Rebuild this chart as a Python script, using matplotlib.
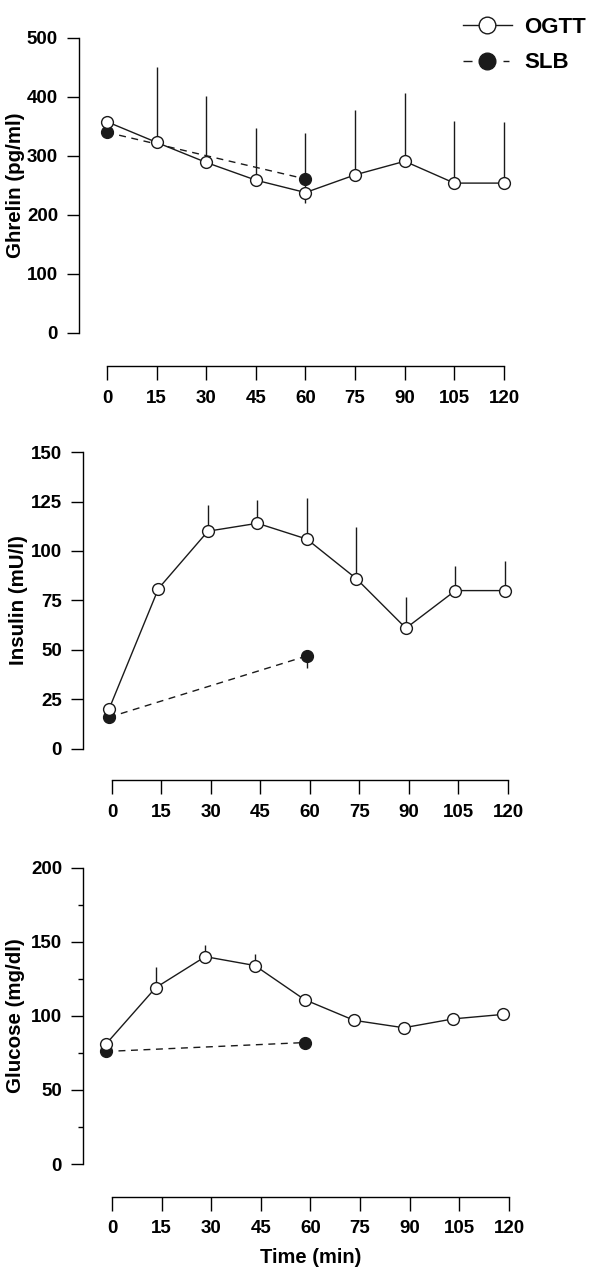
import numpy as np
import matplotlib
matplotlib.use('Agg')
import matplotlib.pyplot as plt
from matplotlib.transforms import ScaledTranslation
from matplotlib.lines import Line2D

plt.rcParams['font.family'] = ['Liberation Sans', 'DejaVu Sans']
plt.rcParams['font.weight'] = 'bold'
plt.rcParams['axes.labelweight'] = 'bold'

# time points (min)
time = [0, 15, 30, 45, 60, 75, 90, 105, 120]
slb_time = [0, 60]

# ghrelin (pg/ml)
ghrelin_ogtt = [358, 323, 289, 259, 238, 268, 291, 254, 254]
ghrelin_ogtt_up = [0, 127, 112, 89, 101, 110, 115, 105, 104]
ghrelin_ogtt_lo = [0, 0, 0, 0, 18, 0, 0, 0, 0]
ghrelin_slb = [340, 261]
ghrelin_slb_lo = [0, 0]

# insulin (mU/l)
insulin_ogtt = [20, 81, 110, 114, 106, 86, 61, 80, 80]
insulin_ogtt_up = [0, 0, 13, 12, 21, 26, 16, 12.5, 15]
insulin_ogtt_lo = [0, 0, 0, 0, 0, 0, 0, 0, 0]
insulin_slb = [16, 47]
insulin_slb_lo = [0, 6]

# glucose (mg/dl)
glucose_ogtt = [81, 119, 140, 134, 111, 97, 92, 98, 101]
glucose_ogtt_up = [0, 14, 8, 8, 0, 0, 0, 0, 0]
glucose_ogtt_lo = [0, 0, 0, 0, 0, 0, 0, 0, 0]
glucose_slb = [76, 82]
glucose_slb_lo = [0, 0]

fig = plt.figure(figsize=(6.02, 12.69), dpi=100)

panels = [
    dict(rect=[0.1777, 0.7376, 0.6595, 0.2325], ymax=500, yticks=np.arange(0, 501, 100),
         minor=[], label='Ghrelin (pg/ml)', off=(20.2, 23.8), shift=0.0, lx=-0.207,
         ogtt=ghrelin_ogtt, up=ghrelin_ogtt_up, lo=ghrelin_ogtt_lo,
         slb=ghrelin_slb, slb_lo=ghrelin_slb_lo),
    dict(rect=[0.1860, 0.4098, 0.6578, 0.2340], ymax=150, yticks=np.arange(0, 151, 25),
         minor=[], label='Insulin (mU/l)', off=(20.9, 22.3), shift=-2.2, lx=-0.212,
         ogtt=insulin_ogtt, up=insulin_ogtt_up, lo=insulin_ogtt_lo,
         slb=insulin_slb, slb_lo=insulin_slb_lo),
    dict(rect=[0.1860, 0.0827, 0.6595, 0.2335], ymax=200, yticks=np.arange(0, 201, 50),
         minor=[25, 75, 125, 175], label='Glucose (mg/dl)', off=(20.9, 23.5), shift=-4.3, lx=-0.219,
         ogtt=glucose_ogtt, up=glucose_ogtt_up, lo=glucose_ogtt_lo,
         slb=glucose_slb, slb_lo=glucose_slb_lo),
]

for p in panels:
    ax = fig.add_axes(p['rect'])
    ax.set_xlim(0, 120)
    ax.set_ylim(0, p['ymax'])
    for s in ['top', 'right']:
        ax.spines[s].set_visible(False)
    ax.spines['left'].set_position(('outward', p['off'][0]))
    ax.spines['bottom'].set_position(('outward', p['off'][1]))
    for s in ['left', 'bottom']:
        ax.spines[s].set_linewidth(1.0)
    ax.set_xticks(time)
    ax.set_yticks(p['yticks'])
    ax.set_yticks(p['minor'], minor=True)
    ax.tick_params(axis='y', which='major', length=9, width=1.0, pad=6, labelsize=13.5)
    ax.tick_params(axis='y', which='minor', length=3.5, width=1.0)
    ax.tick_params(axis='x', which='major', length=10, width=1.0, pad=7, labelsize=13.5)
    ax.set_ylabel(p['label'], fontsize=14.8, fontweight='bold')
    ax.yaxis.set_label_coords(p['lx'], 0.5)

    tr = ax.transData + ScaledTranslation(p['shift'] / 72, 0, fig.dpi_scale_trans)

    ogtt = np.array(p['ogtt'], dtype=float)
    up = np.array(p['up'], dtype=float)
    lo = np.array(p['lo'], dtype=float)
    slb = np.array(p['slb'], dtype=float)
    slb_lo = np.array(p['slb_lo'], dtype=float)

    ax.vlines(time, ogtt - lo, ogtt + up, colors='#1a1a1a', linewidth=1.0,
              transform=tr, clip_on=False, zorder=1)
    ax.vlines(slb_time, slb - slb_lo, slb, colors='#1a1a1a', linewidth=1.0,
              transform=tr, clip_on=False, zorder=1)
    ax.plot(slb_time, slb, color='#1a1a1a', linestyle=(0, (5, 4)), linewidth=1.0,
            marker='o', markersize=8.5, markerfacecolor='#1a1a1a', markeredgecolor='#1a1a1a',
            transform=tr, clip_on=False, zorder=2)
    ax.plot(time, ogtt, color='#1a1a1a', linewidth=1.0,
            marker='o', markersize=8.5, markerfacecolor='white', markeredgecolor='#1a1a1a',
            markeredgewidth=1.0, transform=tr, clip_on=False, zorder=3)

    last_ax = ax

last_ax.set_xlabel('Time (min)', fontsize=14.5, fontweight='bold', labelpad=8)

handles = [
    Line2D([], [], color='#1a1a1a', linewidth=1.0, marker='o', markersize=12,
           markerfacecolor='white', markeredgecolor='#1a1a1a'),
    Line2D([], [], color='#1a1a1a', linewidth=1.0, linestyle=(0, (6.5, 22.3, 4.3, 10)),
           marker='o', markersize=12, markerfacecolor='#1a1a1a', markeredgecolor='#1a1a1a'),
]
fig.legend(handles, ['OGTT', 'SLB'], loc='upper left',
           bbox_to_anchor=(463 / 602, 1 - 17 / 1269), frameon=False,
           prop={'size': 16, 'weight': 'bold'}, handlelength=2.2, handletextpad=0.55,
           labelspacing=0.65, borderpad=0, borderaxespad=0)

fig.savefig('out.png', dpi=100, facecolor='white')
